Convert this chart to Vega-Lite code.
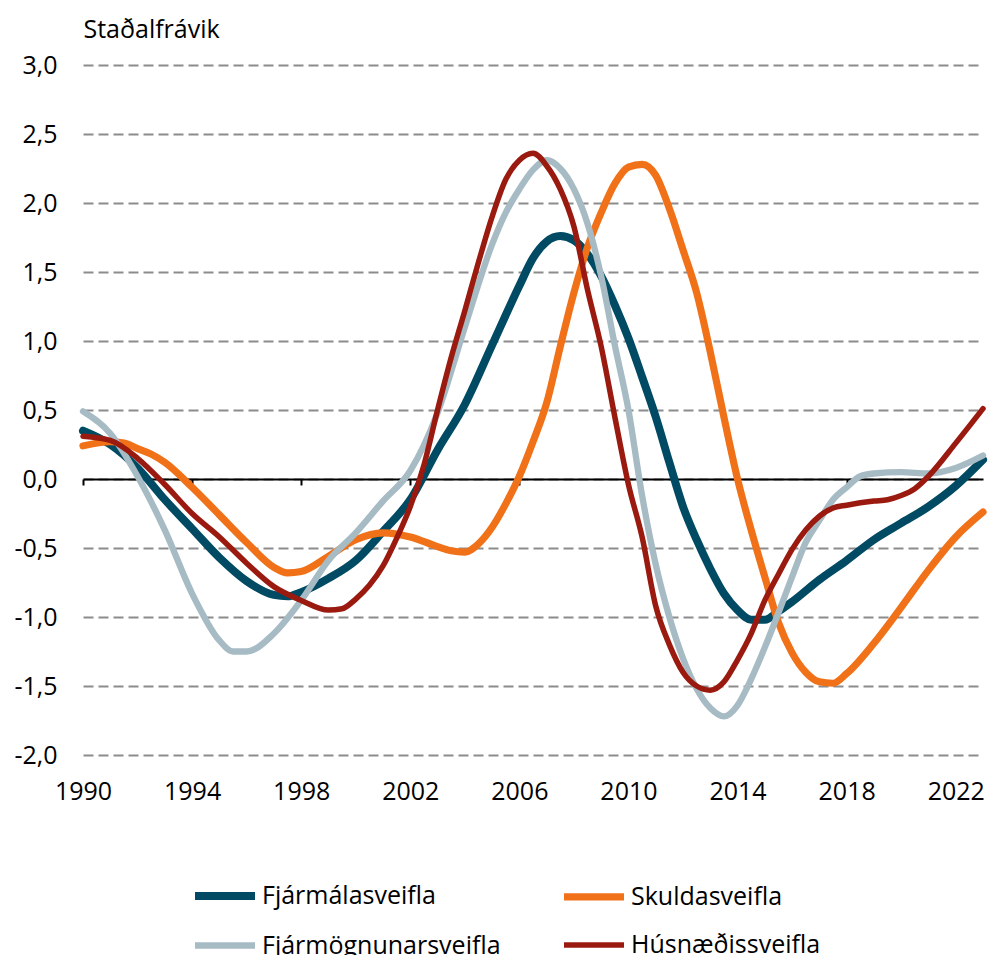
{
  "$schema": "https://vega.github.io/schema/vega-lite/v6.json",
  "autosize": "none",
  "width": 900,
  "height": 690,
  "padding": {"left": 83, "top": 65, "right": 6, "bottom": 200},
  "background": "white",
  "config": {
    "view": {"stroke": null},
    "font": "Open Sans",
    "axis": {"labelFont": "Open Sans", "labelFontSize": 25, "labelColor": "#000000", "titleFont": "Open Sans"},
    "legend": {
      "orient": "none", "legendX": 108, "legendY": 797, "columns": 2, "columnPadding": 48, "rowPadding": -11,
      "symbolType": "stroke", "symbolSize": 3600, "labelFont": "Open Sans", "labelFontSize": 25, "labelColor": "#000000",
      "labelOffset": 3, "labelLimit": 0, "title": null, "direction": "horizontal"
    }
  },
  "data": {
    "values": [
      {"year": 1990, "series": "Fjármálasveifla", "value": 0.35},
      {"year": 1991, "series": "Fjármálasveifla", "value": 0.25},
      {"year": 1992, "series": "Fjármálasveifla", "value": 0.08},
      {"year": 1993, "series": "Fjármálasveifla", "value": -0.15},
      {"year": 1994, "series": "Fjármálasveifla", "value": -0.36},
      {"year": 1995, "series": "Fjármálasveifla", "value": -0.57},
      {"year": 1996, "series": "Fjármálasveifla", "value": -0.74},
      {"year": 1997, "series": "Fjármálasveifla", "value": -0.84},
      {"year": 1997.5, "series": "Fjármálasveifla", "value": -0.85},
      {"year": 1998, "series": "Fjármálasveifla", "value": -0.82},
      {"year": 1999, "series": "Fjármálasveifla", "value": -0.72},
      {"year": 2000, "series": "Fjármálasveifla", "value": -0.59},
      {"year": 2001, "series": "Fjármálasveifla", "value": -0.38},
      {"year": 2002, "series": "Fjármálasveifla", "value": -0.15},
      {"year": 2003, "series": "Fjármálasveifla", "value": 0.21},
      {"year": 2004, "series": "Fjármálasveifla", "value": 0.54},
      {"year": 2005, "series": "Fjármálasveifla", "value": 0.97},
      {"year": 2006, "series": "Fjármálasveifla", "value": 1.4},
      {"year": 2006.5, "series": "Fjármálasveifla", "value": 1.6},
      {"year": 2007, "series": "Fjármálasveifla", "value": 1.72},
      {"year": 2007.5, "series": "Fjármálasveifla", "value": 1.76},
      {"year": 2008, "series": "Fjármálasveifla", "value": 1.73},
      {"year": 2008.5, "series": "Fjármálasveifla", "value": 1.63},
      {"year": 2009, "series": "Fjármálasveifla", "value": 1.47},
      {"year": 2009.5, "series": "Fjármálasveifla", "value": 1.26},
      {"year": 2010, "series": "Fjármálasveifla", "value": 1.02},
      {"year": 2010.5, "series": "Fjármálasveifla", "value": 0.74},
      {"year": 2011, "series": "Fjármálasveifla", "value": 0.45},
      {"year": 2011.5, "series": "Fjármálasveifla", "value": 0.12},
      {"year": 2012, "series": "Fjármálasveifla", "value": -0.2},
      {"year": 2012.5, "series": "Fjármálasveifla", "value": -0.44},
      {"year": 2013, "series": "Fjármálasveifla", "value": -0.65},
      {"year": 2013.5, "series": "Fjármálasveifla", "value": -0.83},
      {"year": 2014, "series": "Fjármálasveifla", "value": -0.95},
      {"year": 2014.5, "series": "Fjármálasveifla", "value": -1.02},
      {"year": 2015, "series": "Fjármálasveifla", "value": -1.02},
      {"year": 2015.5, "series": "Fjármálasveifla", "value": -0.96},
      {"year": 2016, "series": "Fjármálasveifla", "value": -0.89},
      {"year": 2017, "series": "Fjármálasveifla", "value": -0.73},
      {"year": 2018, "series": "Fjármálasveifla", "value": -0.59},
      {"year": 2019, "series": "Fjármálasveifla", "value": -0.44},
      {"year": 2020, "series": "Fjármálasveifla", "value": -0.32},
      {"year": 2021, "series": "Fjármálasveifla", "value": -0.2},
      {"year": 2022, "series": "Fjármálasveifla", "value": -0.05},
      {"year": 2023, "series": "Fjármálasveifla", "value": 0.14},

      {"year": 1990, "series": "Skuldasveifla", "value": 0.24},
      {"year": 1991, "series": "Skuldasveifla", "value": 0.27},
      {"year": 1991.5, "series": "Skuldasveifla", "value": 0.26},
      {"year": 1992, "series": "Skuldasveifla", "value": 0.22},
      {"year": 1992.5, "series": "Skuldasveifla", "value": 0.18},
      {"year": 1993, "series": "Skuldasveifla", "value": 0.12},
      {"year": 1994, "series": "Skuldasveifla", "value": -0.06},
      {"year": 1995, "series": "Skuldasveifla", "value": -0.26},
      {"year": 1996, "series": "Skuldasveifla", "value": -0.46},
      {"year": 1997, "series": "Skuldasveifla", "value": -0.64},
      {"year": 1997.5, "series": "Skuldasveifla", "value": -0.68},
      {"year": 1998, "series": "Skuldasveifla", "value": -0.67},
      {"year": 1999, "series": "Skuldasveifla", "value": -0.56},
      {"year": 2000, "series": "Skuldasveifla", "value": -0.44},
      {"year": 2001, "series": "Skuldasveifla", "value": -0.39},
      {"year": 2002, "series": "Skuldasveifla", "value": -0.42},
      {"year": 2003, "series": "Skuldasveifla", "value": -0.49},
      {"year": 2003.5, "series": "Skuldasveifla", "value": -0.52},
      {"year": 2004, "series": "Skuldasveifla", "value": -0.53},
      {"year": 2004.5, "series": "Skuldasveifla", "value": -0.47},
      {"year": 2005, "series": "Skuldasveifla", "value": -0.35},
      {"year": 2005.5, "series": "Skuldasveifla", "value": -0.18},
      {"year": 2006, "series": "Skuldasveifla", "value": 0.02},
      {"year": 2006.5, "series": "Skuldasveifla", "value": 0.27},
      {"year": 2007, "series": "Skuldasveifla", "value": 0.55},
      {"year": 2007.5, "series": "Skuldasveifla", "value": 0.96},
      {"year": 2008, "series": "Skuldasveifla", "value": 1.35},
      {"year": 2008.5, "series": "Skuldasveifla", "value": 1.68},
      {"year": 2009, "series": "Skuldasveifla", "value": 1.93},
      {"year": 2009.5, "series": "Skuldasveifla", "value": 2.14},
      {"year": 2010, "series": "Skuldasveifla", "value": 2.26},
      {"year": 2010.5, "series": "Skuldasveifla", "value": 2.28},
      {"year": 2011, "series": "Skuldasveifla", "value": 2.2},
      {"year": 2011.5, "series": "Skuldasveifla", "value": 1.96},
      {"year": 2012, "series": "Skuldasveifla", "value": 1.66},
      {"year": 2012.5, "series": "Skuldasveifla", "value": 1.35},
      {"year": 2013, "series": "Skuldasveifla", "value": 0.92},
      {"year": 2013.5, "series": "Skuldasveifla", "value": 0.45},
      {"year": 2014, "series": "Skuldasveifla", "value": 0.0},
      {"year": 2014.5, "series": "Skuldasveifla", "value": -0.37},
      {"year": 2015, "series": "Skuldasveifla", "value": -0.71},
      {"year": 2015.5, "series": "Skuldasveifla", "value": -1.04},
      {"year": 2016, "series": "Skuldasveifla", "value": -1.26},
      {"year": 2016.5, "series": "Skuldasveifla", "value": -1.4},
      {"year": 2017, "series": "Skuldasveifla", "value": -1.47},
      {"year": 2017.5, "series": "Skuldasveifla", "value": -1.48},
      {"year": 2018, "series": "Skuldasveifla", "value": -1.41},
      {"year": 2019, "series": "Skuldasveifla", "value": -1.19},
      {"year": 2020, "series": "Skuldasveifla", "value": -0.93},
      {"year": 2021, "series": "Skuldasveifla", "value": -0.66},
      {"year": 2022, "series": "Skuldasveifla", "value": -0.42},
      {"year": 2023, "series": "Skuldasveifla", "value": -0.24},

      {"year": 1990, "series": "Fjármögnunarsveifla", "value": 0.49},
      {"year": 1991, "series": "Fjármögnunarsveifla", "value": 0.33},
      {"year": 1992, "series": "Fjármögnunarsveifla", "value": 0.02},
      {"year": 1993, "series": "Fjármögnunarsveifla", "value": -0.37},
      {"year": 1994, "series": "Fjármögnunarsveifla", "value": -0.83},
      {"year": 1995, "series": "Fjármögnunarsveifla", "value": -1.17},
      {"year": 1995.5, "series": "Fjármögnunarsveifla", "value": -1.25},
      {"year": 1996, "series": "Fjármögnunarsveifla", "value": -1.25},
      {"year": 1997, "series": "Fjármögnunarsveifla", "value": -1.12},
      {"year": 1998, "series": "Fjármögnunarsveifla", "value": -0.88},
      {"year": 1999, "series": "Fjármögnunarsveifla", "value": -0.59},
      {"year": 2000, "series": "Fjármögnunarsveifla", "value": -0.39},
      {"year": 2001, "series": "Fjármögnunarsveifla", "value": -0.16},
      {"year": 2002, "series": "Fjármögnunarsveifla", "value": 0.06},
      {"year": 2003, "series": "Fjármögnunarsveifla", "value": 0.48},
      {"year": 2004, "series": "Fjármögnunarsveifla", "value": 1.1},
      {"year": 2005, "series": "Fjármögnunarsveifla", "value": 1.7},
      {"year": 2005.5, "series": "Fjármögnunarsveifla", "value": 1.93},
      {"year": 2006, "series": "Fjármögnunarsveifla", "value": 2.1},
      {"year": 2006.5, "series": "Fjármögnunarsveifla", "value": 2.24},
      {"year": 2007, "series": "Fjármögnunarsveifla", "value": 2.31},
      {"year": 2007.5, "series": "Fjármögnunarsveifla", "value": 2.25},
      {"year": 2008, "series": "Fjármögnunarsveifla", "value": 2.1},
      {"year": 2008.5, "series": "Fjármögnunarsveifla", "value": 1.85},
      {"year": 2009, "series": "Fjármögnunarsveifla", "value": 1.47},
      {"year": 2009.5, "series": "Fjármögnunarsveifla", "value": 0.97},
      {"year": 2010, "series": "Fjármögnunarsveifla", "value": 0.5},
      {"year": 2010.5, "series": "Fjármögnunarsveifla", "value": -0.12},
      {"year": 2011, "series": "Fjármögnunarsveifla", "value": -0.62},
      {"year": 2011.5, "series": "Fjármögnunarsveifla", "value": -1.0},
      {"year": 2012, "series": "Fjármögnunarsveifla", "value": -1.3},
      {"year": 2012.5, "series": "Fjármögnunarsveifla", "value": -1.52},
      {"year": 2013, "series": "Fjármögnunarsveifla", "value": -1.66},
      {"year": 2013.5, "series": "Fjármögnunarsveifla", "value": -1.72},
      {"year": 2014, "series": "Fjármögnunarsveifla", "value": -1.64},
      {"year": 2014.5, "series": "Fjármögnunarsveifla", "value": -1.45},
      {"year": 2015, "series": "Fjármögnunarsveifla", "value": -1.22},
      {"year": 2015.5, "series": "Fjármögnunarsveifla", "value": -0.97},
      {"year": 2016, "series": "Fjármögnunarsveifla", "value": -0.71},
      {"year": 2016.5, "series": "Fjármögnunarsveifla", "value": -0.46},
      {"year": 2017, "series": "Fjármögnunarsveifla", "value": -0.3},
      {"year": 2017.5, "series": "Fjármögnunarsveifla", "value": -0.15},
      {"year": 2018, "series": "Fjármögnunarsveifla", "value": -0.06},
      {"year": 2018.5, "series": "Fjármögnunarsveifla", "value": 0.02},
      {"year": 2019, "series": "Fjármögnunarsveifla", "value": 0.04},
      {"year": 2020, "series": "Fjármögnunarsveifla", "value": 0.05},
      {"year": 2021, "series": "Fjármögnunarsveifla", "value": 0.04},
      {"year": 2022, "series": "Fjármögnunarsveifla", "value": 0.08},
      {"year": 2023, "series": "Fjármögnunarsveifla", "value": 0.17},

      {"year": 1990, "series": "Húsnæðissveifla", "value": 0.31},
      {"year": 1991, "series": "Húsnæðissveifla", "value": 0.28},
      {"year": 1992, "series": "Húsnæðissveifla", "value": 0.15},
      {"year": 1993, "series": "Húsnæðissveifla", "value": -0.04},
      {"year": 1994, "series": "Húsnæðissveifla", "value": -0.25},
      {"year": 1995, "series": "Húsnæðissveifla", "value": -0.42},
      {"year": 1996, "series": "Húsnæðissveifla", "value": -0.61},
      {"year": 1997, "series": "Húsnæðissveifla", "value": -0.78},
      {"year": 1998, "series": "Húsnæðissveifla", "value": -0.88},
      {"year": 1999, "series": "Húsnæðissveifla", "value": -0.95},
      {"year": 1999.5, "series": "Húsnæðissveifla", "value": -0.94},
      {"year": 2000, "series": "Húsnæðissveifla", "value": -0.87},
      {"year": 2000.5, "series": "Húsnæðissveifla", "value": -0.77},
      {"year": 2001, "series": "Húsnæðissveifla", "value": -0.63},
      {"year": 2001.5, "series": "Húsnæðissveifla", "value": -0.43},
      {"year": 2002, "series": "Húsnæðissveifla", "value": -0.2},
      {"year": 2002.5, "series": "Húsnæðissveifla", "value": 0.1},
      {"year": 2003, "series": "Húsnæðissveifla", "value": 0.5},
      {"year": 2003.5, "series": "Húsnæðissveifla", "value": 0.88},
      {"year": 2004, "series": "Húsnæðissveifla", "value": 1.22},
      {"year": 2004.5, "series": "Húsnæðissveifla", "value": 1.57},
      {"year": 2005, "series": "Húsnæðissveifla", "value": 1.9},
      {"year": 2005.5, "series": "Húsnæðissveifla", "value": 2.17},
      {"year": 2006, "series": "Húsnæðissveifla", "value": 2.31},
      {"year": 2006.5, "series": "Húsnæðissveifla", "value": 2.36},
      {"year": 2007, "series": "Húsnæðissveifla", "value": 2.27},
      {"year": 2007.5, "series": "Húsnæðissveifla", "value": 2.1},
      {"year": 2008, "series": "Húsnæðissveifla", "value": 1.83},
      {"year": 2008.5, "series": "Húsnæðissveifla", "value": 1.37},
      {"year": 2009, "series": "Húsnæðissveifla", "value": 0.96},
      {"year": 2009.5, "series": "Húsnæðissveifla", "value": 0.45},
      {"year": 2010, "series": "Húsnæðissveifla", "value": -0.04},
      {"year": 2010.5, "series": "Húsnæðissveifla", "value": -0.42},
      {"year": 2011, "series": "Húsnæðissveifla", "value": -0.92},
      {"year": 2011.5, "series": "Húsnæðissveifla", "value": -1.2},
      {"year": 2012, "series": "Húsnæðissveifla", "value": -1.4},
      {"year": 2012.5, "series": "Húsnæðissveifla", "value": -1.5},
      {"year": 2013, "series": "Húsnæðissveifla", "value": -1.53},
      {"year": 2013.5, "series": "Húsnæðissveifla", "value": -1.47},
      {"year": 2014, "series": "Húsnæðissveifla", "value": -1.31},
      {"year": 2014.5, "series": "Húsnæðissveifla", "value": -1.12},
      {"year": 2015, "series": "Húsnæðissveifla", "value": -0.88},
      {"year": 2015.5, "series": "Húsnæðissveifla", "value": -0.69},
      {"year": 2016, "series": "Húsnæðissveifla", "value": -0.51},
      {"year": 2016.5, "series": "Húsnæðissveifla", "value": -0.37},
      {"year": 2017, "series": "Húsnæðissveifla", "value": -0.27},
      {"year": 2017.5, "series": "Húsnæðissveifla", "value": -0.21},
      {"year": 2018, "series": "Húsnæðissveifla", "value": -0.19},
      {"year": 2019, "series": "Húsnæðissveifla", "value": -0.16},
      {"year": 2019.5, "series": "Húsnæðissveifla", "value": -0.15},
      {"year": 2020, "series": "Húsnæðissveifla", "value": -0.12},
      {"year": 2020.5, "series": "Húsnæðissveifla", "value": -0.07},
      {"year": 2021, "series": "Húsnæðissveifla", "value": 0.02},
      {"year": 2022, "series": "Húsnæðissveifla", "value": 0.26},
      {"year": 2023, "series": "Húsnæðissveifla", "value": 0.51}
    ]
  },
  "mark": {"type": "line", "interpolate": "monotone", "strokeCap": "round", "strokeJoin": "round"},
  "encoding": {
    "x": {
      "field": "year", "type": "quantitative",
      "scale": {"domain": [1990, 2023], "nice": false, "zero": false},
      "axis": {
        "title": null, "values": [1990, 1994, 1998, 2002, 2006, 2010, 2014, 2018, 2022], "format": "d",
        "offset": -276, "domain": true, "domainColor": "#000000", "domainWidth": 2,
        "ticks": true, "tickSize": 6, "tickColor": "#000000", "tickWidth": 2,
        "labelPadding": 294, "labelBaseline": "top", "grid": false, "labelFlush": false
      }
    },
    "y": {
      "field": "value", "type": "quantitative",
      "scale": {"domain": [-2, 3], "nice": false, "zero": false},
      "axis": {
        "values": [-2, -1.5, -1, -0.5, 0, 0.5, 1, 1.5, 2, 2.5, 3],
        "labelExpr": "replace(replace(format(datum.value, '.1f'), '.', ','), '−', '-')",
        "domain": false, "ticks": false, "tickSize": 0, "labelPadding": 26,
        "grid": true, "gridColor": "#8c8c8c", "gridWidth": 2, "gridDash": [10, 5],
        "title": "Staðalfrávik", "titleAngle": 0, "titleAlign": "left", "titleBaseline": "alphabetic",
        "titleX": 0, "titleY": -28, "titleFontSize": 25, "titleFontWeight": "normal", "titleColor": "#000000"
      }
    },
    "color": {
      "field": "series", "type": "nominal",
      "scale": {
        "domain": ["Fjármálasveifla", "Skuldasveifla", "Fjármögnunarsveifla", "Húsnæðissveifla"],
        "range": ["#004B63", "#F07118", "#A7BBC5", "#9A1A10"]
      }
    },
    "strokeWidth": {
      "field": "series", "type": "nominal",
      "scale": {
        "domain": ["Fjármálasveifla", "Skuldasveifla", "Fjármögnunarsveifla", "Húsnæðissveifla"],
        "range": [8, 5.5, 5.5, 5.5]
      }
    }
  }
}
